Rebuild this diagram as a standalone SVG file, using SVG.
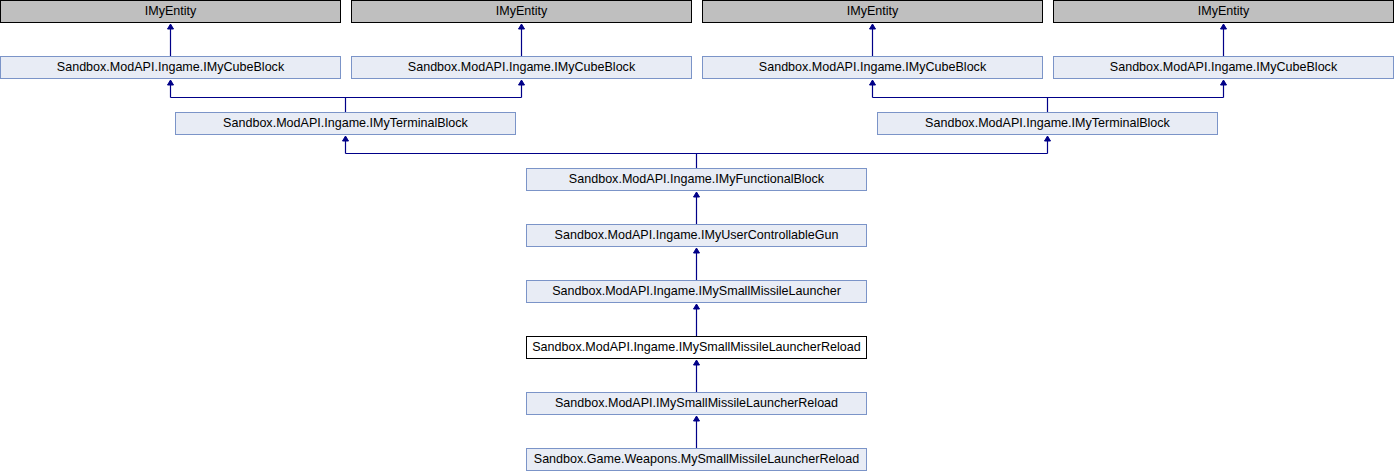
<svg xmlns="http://www.w3.org/2000/svg" width="1394" height="472" viewBox="0 0 1394 472">
<defs>
<style>
.n rect{fill:#e8ecf5;stroke:#7b94c8;stroke-width:1}
.g rect{fill:#bfbfbf;stroke:#000;stroke-width:1}
.w rect{fill:#fff;stroke:#000;stroke-width:1}
text{font-family:"Liberation Sans",Arial,sans-serif;font-size:12.55px;fill:#000;text-anchor:middle}
.e{fill:none;stroke:#000088;stroke-width:1.2}
.a{fill:#000088;stroke:#000088;stroke-width:1}
</style>
</defs>
<rect width="1394" height="472" fill="#fff"/>
<g id="entity1" class="g"><rect x="0.5" y="0.5" width="340" height="22"/><text x="170.5" y="15">IMyEntity</text></g>
<g id="entity2" class="g"><rect x="351.5" y="0.5" width="340" height="22"/><text x="521.5" y="15">IMyEntity</text></g>
<g id="entity3" class="g"><rect x="702.5" y="0.5" width="340" height="22"/><text x="872.5" y="15">IMyEntity</text></g>
<g id="entity4" class="g"><rect x="1053.5" y="0.5" width="340" height="22"/><text x="1223.5" y="15">IMyEntity</text></g>
<g id="cube1" class="n"><rect x="0.5" y="56.5" width="340" height="22"/><text x="170.5" y="71">Sandbox.ModAPI.Ingame.IMyCubeBlock</text></g>
<g id="cube2" class="n"><rect x="351.5" y="56.5" width="340" height="22"/><text x="521.5" y="71">Sandbox.ModAPI.Ingame.IMyCubeBlock</text></g>
<g id="cube3" class="n"><rect x="702.5" y="56.5" width="340" height="22"/><text x="872.5" y="71">Sandbox.ModAPI.Ingame.IMyCubeBlock</text></g>
<g id="cube4" class="n"><rect x="1053.5" y="56.5" width="340" height="22"/><text x="1223.5" y="71">Sandbox.ModAPI.Ingame.IMyCubeBlock</text></g>
<g id="terminal1" class="n"><rect x="175.5" y="112.5" width="340" height="22"/><text x="345.5" y="127">Sandbox.ModAPI.Ingame.IMyTerminalBlock</text></g>
<g id="terminal2" class="n"><rect x="877.5" y="112.5" width="340" height="22"/><text x="1047.5" y="127">Sandbox.ModAPI.Ingame.IMyTerminalBlock</text></g>
<g id="functional" class="n"><rect x="526.5" y="168.5" width="340" height="22"/><text x="696.5" y="183">Sandbox.ModAPI.Ingame.IMyFunctionalBlock</text></g>
<g id="gun" class="n"><rect x="526.5" y="224.5" width="340" height="22"/><text x="696.5" y="239">Sandbox.ModAPI.Ingame.IMyUserControllableGun</text></g>
<g id="launcher" class="n"><rect x="526.5" y="280.5" width="340" height="22"/><text x="696.5" y="295">Sandbox.ModAPI.Ingame.IMySmallMissileLauncher</text></g>
<g id="reloadIngame" class="w"><rect x="526.5" y="336.5" width="340" height="22"/><text x="696.5" y="351">Sandbox.ModAPI.Ingame.IMySmallMissileLauncherReload</text></g>
<g id="reloadModAPI" class="n"><rect x="526.5" y="392.5" width="340" height="22"/><text x="696.5" y="407">Sandbox.ModAPI.IMySmallMissileLauncherReload</text></g>
<g id="reloadGame" class="n"><rect x="526.5" y="448.5" width="340" height="22"/><text x="696.5" y="463">Sandbox.Game.Weapons.MySmallMissileLauncherReload</text></g>
<g id="connectors">
<path class="e" d="M170.5 56V28M521.5 56V28M872.5 56V28M1223.5 56V28"/>
<path class="e" d="M345.5 112V97.5M170.5 97.5H521.5M170.5 97.5V84M521.5 97.5V84"/>
<path class="e" d="M1047.5 112V97.5M872.5 97.5H1223.5M872.5 97.5V84M1223.5 97.5V84"/>
<path class="e" d="M696.5 168V153.5M345.5 153.5H1047.5M345.5 153.5V140M1047.5 153.5V140"/>
<path class="e" d="M696.5 224V196M696.5 280V252M696.5 336V308M696.5 392V364M696.5 448V420"/>
<g class="a">
<path d="M170.5 24l-3 5h6z"/><path d="M521.5 24l-3 5h6z"/><path d="M872.5 24l-3 5h6z"/><path d="M1223.5 24l-3 5h6z"/>
<path d="M170.5 80l-3 5h6z"/><path d="M521.5 80l-3 5h6z"/><path d="M872.5 80l-3 5h6z"/><path d="M1223.5 80l-3 5h6z"/>
<path d="M345.5 136l-3 5h6z"/><path d="M1047.5 136l-3 5h6z"/>
<path d="M696.5 192l-3 5h6z"/><path d="M696.5 248l-3 5h6z"/><path d="M696.5 304l-3 5h6z"/><path d="M696.5 360l-3 5h6z"/><path d="M696.5 416l-3 5h6z"/>
</g>
</g>
</svg>
